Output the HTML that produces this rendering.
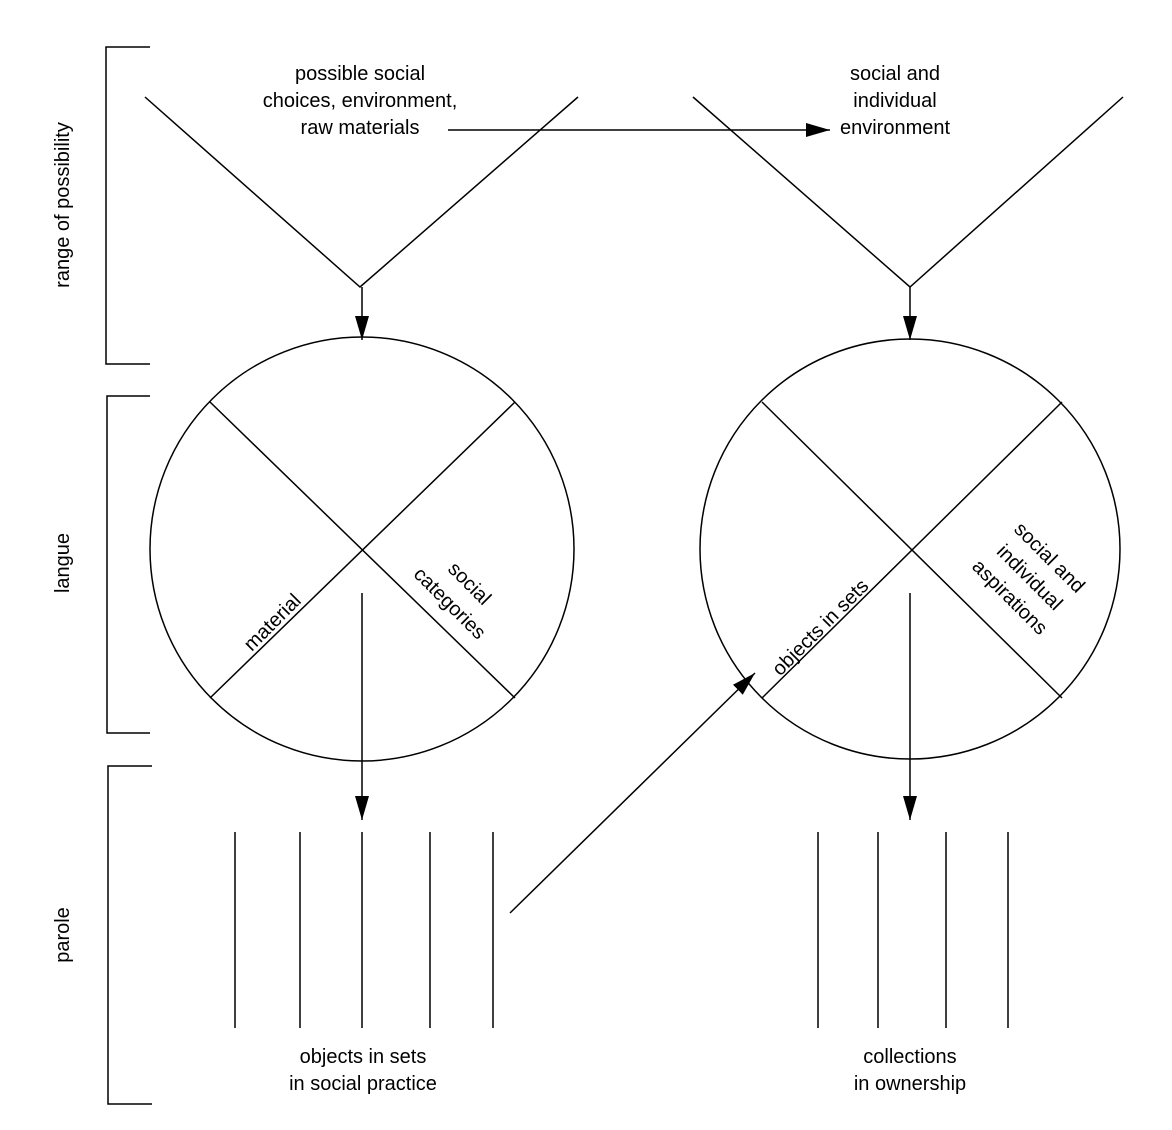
<!DOCTYPE html>
<html><head><meta charset="utf-8"><style>
html,body{margin:0;padding:0;background:#fff;}
svg{display:block;}
text{font-family:"Liberation Sans",Arial,sans-serif;font-size:20px;fill:#000;}
</style></head><body>
<svg width="1172" height="1130" viewBox="0 0 1172 1130" xmlns="http://www.w3.org/2000/svg">
<defs>
<marker id="ah2" viewBox="0 0 24 14" markerWidth="24" markerHeight="14" refX="24" refY="7" orient="auto" markerUnits="userSpaceOnUse">
<path d="M0,0 L24,7 L0,14 Z" fill="#000"/>
</marker>
</defs>
<g stroke="#000" stroke-width="1.5" fill="none">
<polyline points="150,47 106,47 106,364 150,364"/>
<polyline points="150,396 107,396 107,733 150,733"/>
<polyline points="152,766 108,766 108,1104 152,1104"/>
<polyline points="145,97 360,287 578,97"/>
<polyline points="693,97 910,287 1123,97"/>
<line x1="362" y1="287" x2="362" y2="340" marker-end="url(#ah2)"/>
<line x1="910" y1="287" x2="910" y2="340" marker-end="url(#ah2)"/>
<line x1="448" y1="130" x2="830" y2="130" marker-end="url(#ah2)"/>
<circle cx="362" cy="549" r="212"/>
<line x1="210" y1="402" x2="515" y2="698"/>
<line x1="515" y1="402" x2="210" y2="698"/>
<circle cx="910" cy="549" r="210"/>
<line x1="762" y1="402" x2="1062" y2="698"/>
<line x1="1062" y1="402" x2="762" y2="698"/>
<line x1="362" y1="593" x2="362" y2="820" marker-end="url(#ah2)"/>
<line x1="910" y1="593" x2="910" y2="820" marker-end="url(#ah2)"/>
<line x1="510" y1="913" x2="755" y2="673" marker-end="url(#ah2)"/>
<line x1="235" y1="832" x2="235" y2="1028"/>
<line x1="300" y1="832" x2="300" y2="1028"/>
<line x1="362" y1="832" x2="362" y2="1028"/>
<line x1="430" y1="832" x2="430" y2="1028"/>
<line x1="493" y1="832" x2="493" y2="1028"/>
<line x1="818" y1="832" x2="818" y2="1028"/>
<line x1="878" y1="832" x2="878" y2="1028"/>
<line x1="946" y1="832" x2="946" y2="1028"/>
<line x1="1008" y1="832" x2="1008" y2="1028"/>
</g>
<g text-anchor="middle">
<text x="360" y="80">possible social</text>
<text x="360" y="107">choices, environment,</text>
<text x="360" y="134">raw materials</text>
<text x="895" y="80">social and</text>
<text x="895" y="107">individual</text>
<text x="895" y="134">environment</text>
<text x="363" y="1063">objects in sets</text>
<text x="363" y="1090">in social practice</text>
<text x="910" y="1063">collections</text>
<text x="910" y="1090">in ownership</text>
<text transform="translate(69,205) rotate(-90)">range of possibility</text>
<text transform="translate(69,563) rotate(-90)">langue</text>
<text transform="translate(69,935) rotate(-90)">parole</text>
<text transform="translate(272,622) rotate(-45)" y="7">material</text>
<g transform="translate(460,593) rotate(45)">
<text x="0" y="-7">social</text>
<text x="0" y="21">categories</text>
</g>
<text transform="translate(820,627) rotate(-45)" y="7">objects in sets</text>
<g transform="translate(1030,577) rotate(45)">
<text x="0" y="-21">social and</text>
<text x="0" y="7">individual</text>
<text x="0" y="35">aspirations</text>
</g>
</g>
</svg>
</body></html>
